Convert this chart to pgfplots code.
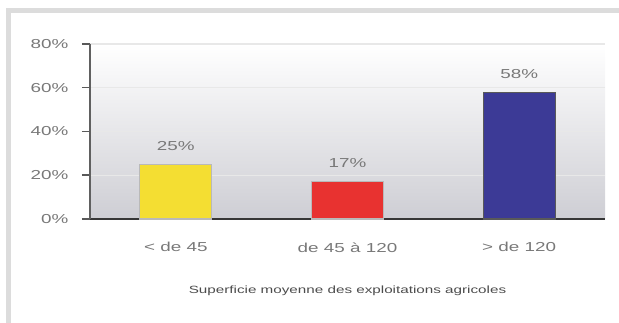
\documentclass[border=0pt]{standalone}
\usepackage{pgfplots}
\pgfplotsset{compat=1.18}
\usepackage{fontspec}
\setmainfont{Liberation Sans}
\usepackage{graphicx}

\definecolor{barYellow}{RGB}{244,222,50}
\definecolor{barRed}{RGB}{232,50,48}
\definecolor{barBlue}{RGB}{60,58,150}
\definecolor{frameGray}{RGB}{220,220,220}
\definecolor{labelGray}{RGB}{120,120,120}
\definecolor{axisDark}{RGB}{55,55,55}

% wide lettering used throughout the chart
\newcommand{\wide}[1]{\scalebox{1.45}[1]{#1}}

\begin{document}
\begin{tikzpicture}
\path[use as bounding box] (0pt,0pt) rectangle (619pt,323pt);
% outer frame
\fill[frameGray] (6pt,0pt) rectangle (11pt,315pt);
\fill[frameGray] (6pt,310pt) rectangle (619pt,315pt);

\begin{axis}[
  at={(90pt,104pt)}, anchor=south west,
  scale only axis, width=515pt, height=175pt,
  xmin=-0.5, xmax=2.5, ymin=0, ymax=80,
  /pgf/number format/assume math mode=true,
  axis x line=bottom, axis y line=left,
  axis line style={-},
  x axis line style={line width=2.5pt, draw=axisDark},
  y axis line style={line width=2pt, draw=gray!75!black},
  axis background/.style={top color=white, bottom color={rgb,255:red,206;green,206;blue,212}},
  ymajorgrids, grid style={draw=gray!18, line width=1.2pt},
  ytick={0,20,40,60,80},
  yticklabel={\wide{\pgfmathprintnumber{\tick}\%}},
  yticklabel style={font=\fontsize{13}{13}\selectfont, text=labelGray, xshift=-10pt},
  tick align=outside,
  major tick length=8pt,
  ytick style={line width=1.5pt, draw=gray!70!black},
  xtick={0,1,2},
  xticklabels={\wide{< de 45}, \wide{de 45 à 120}, \wide{> de 120}},
  xtick style={draw=none},
  xticklabel style={font=\fontsize{13}{13}\selectfont, text=labelGray, yshift=-12pt},
  extra x ticks={0.5,1.5,2.5},
  extra x tick labels={},
  extra x tick style={tick style={draw=gray!70, line width=1.5pt}, major tick length=5pt},
  xlabel={\wide{Superficie moyenne des exploitations agricoles}},
  xlabel style={font=\fontsize{10.5}{10.5}\selectfont, text=gray!60!black, at={(axis description cs:0.5,0)}, anchor=center, yshift=-72pt},
  ybar, bar width=72pt,
  nodes near coords={\wide{\pgfmathprintnumber{\pgfplotspointmeta}\%}},
  nodes near coords style={font=\fontsize{13}{13}\selectfont, text=labelGray, anchor=south, yshift=10pt},
  clip=false,
]
\addplot[bar shift=0pt, fill=barYellow, draw=gray!55, line width=1.2pt] coordinates {(0,25)};
\addplot[bar shift=0pt, fill=barRed, draw=gray!55, line width=1.2pt] coordinates {(1,17)};
\addplot[bar shift=0pt, fill=barBlue, draw=gray!70!black, line width=1.2pt] coordinates {(2,58)};
\end{axis}
\end{tikzpicture}
\end{document}
